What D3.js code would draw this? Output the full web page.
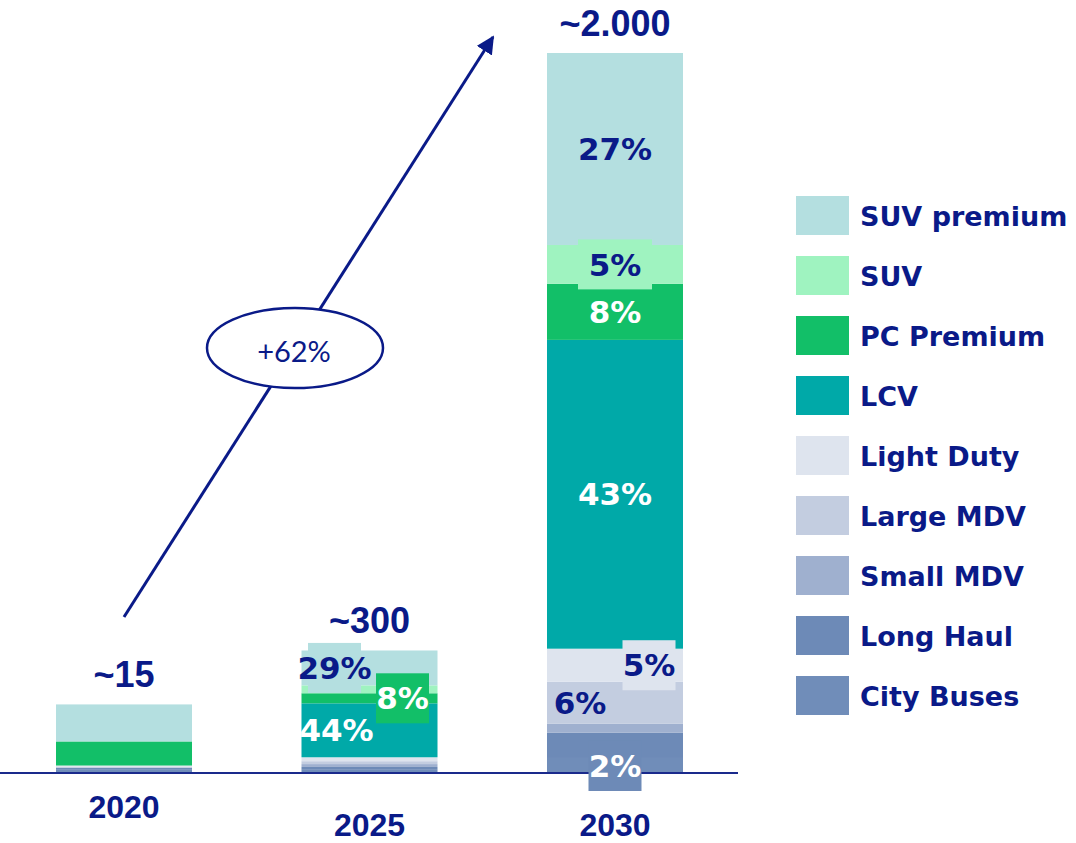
<!DOCTYPE html>
<html>
<head>
<meta charset="utf-8">
<script src="https://cdn.jsdelivr.net/npm/d3@7"></script>
<style>
  body { margin: 0; background: #fff; }
  svg { display: block; }
</style>
</head>
<body>
<svg id="chart"></svg>
<script>
// data (segment sizes in chart units, bottom -> top)
let years = ["2020", "2025", "2030"];
let totalLabels = ["~15", "~300", "~2.000"];
let series = ["City Buses", "Long Haul", "Small MDV", "Large MDV", "Light Duty", "LCV", "PC Premium", "SUV", "SUV premium"];
let colors = ["#708db9", "#6d8ab7", "#9fb0cf", "#c3cde0", "#dee4ee", "#00a9a8", "#12bf68", "#9ff3c0", "#b4dfe0"];
let values2020 = [6, 6, 0, 3, 3, 0, 67, 0, 103];
let values2025 = [6, 8, 8, 8, 11, 150, 28, 22, 97];
let values2030 = [39, 70, 25, 117, 92, 859, 156, 108, 534];
let shareLabels = [
  { year: "2025", key: "SUV premium", text: "29%" },
  { year: "2025", key: "PC Premium", text: "8%" },
  { year: "2025", key: "LCV", text: "44%" },
  { year: "2030", key: "SUV premium", text: "27%" },
  { year: "2030", key: "SUV", text: "5%" },
  { year: "2030", key: "PC Premium", text: "8%" },
  { year: "2030", key: "LCV", text: "43%" },
  { year: "2030", key: "Light Duty", text: "5%" },
  { year: "2030", key: "Large MDV", text: "6%" },
  { year: "2030", key: "City Buses", text: "2%" }
];
let growthLabel = "+62%";

// label look (offsets from segment centre, box fills)
let labelStyle = {
  "2025|SUV premium": { dx: -35, color: "#0a1a88", box: "#b4dfe0", bw: 53 },
  "2025|PC Premium": { dx: 33, color: "#fff", box: "#12bf68", bw: 53 },
  "2025|LCV": { dx: -33, color: "#fff" },
  "2030|SUV premium": { dx: 0, color: "#0a1a88" },
  "2030|SUV": { dx: 0, color: "#0a1a88", box: "#9ff3c0", bw: 74 },
  "2030|PC Premium": { dx: 0, color: "#fff" },
  "2030|LCV": { dx: 0, color: "#fff" },
  "2030|Light Duty": { dx: 34, color: "#0a1a88", box: "#dee4ee", bw: 53 },
  "2030|Large MDV": { dx: -35, color: "#0a1a88" },
  "2030|City Buses": { dx: 0, dy: 1, color: "#fff", box: "#6d8ab7", bw: 53 }
};

let navy = "#0a1a88";
let width = 1076, height = 843;
let svg = d3.select("#chart").attr("width", width).attr("height", height);

let rows = years.map((y, i) => {
  let vals = [values2020, values2025, values2030][i];
  let row = { year: y };
  series.forEach((s, j) => row[s] = vals[j]);
  return row;
});

let xScale = d3.scaleBand().domain(years).range([56, 683]).paddingInner(0.446).paddingOuter(0);
let yScale = d3.scaleLinear().domain([0, 2000]).range([772, 53]);
let colorScale = d3.scaleOrdinal().domain(series).range(colors);

let stacked = d3.stack().keys(series)(rows);

// bars
let layers = svg.append("g").selectAll("g")
  .data(stacked)
  .join("g")
  .attr("fill", d => colorScale(d.key));

layers.selectAll("rect")
  .data(d => d.filter(p => p[1] > p[0]))
  .join("rect")
  .attr("x", d => xScale(d.data.year))
  .attr("width", xScale.bandwidth())
  .attr("y", d => yScale(d[1]))
  .attr("height", d => yScale(d[0]) - yScale(d[1]));

// baseline
svg.append("line")
  .attr("x1", 0).attr("x2", 738)
  .attr("y1", yScale(0) + 1).attr("y2", yScale(0) + 1)
  .attr("stroke", "#1a2a8c").attr("stroke-width", 2);

// share labels
let lab = svg.append("g");
shareLabels.forEach(l => {
  let layer = stacked.find(s => s.key === l.key);
  let seg = layer.find(p => p.data.year === l.year);
  let st = labelStyle[l.year + "|" + l.key];
  let cx = xScale(l.year) + xScale.bandwidth() / 2 + st.dx;
  let cy = (yScale(seg[0]) + yScale(seg[1])) / 2 + (st.dy || 0);
  if (st.box) {
    lab.append("rect")
      .attr("x", cx - st.bw / 2).attr("y", cy - 25)
      .attr("width", st.bw).attr("height", 50)
      .attr("fill", st.box);
  }
  lab.append("text")
    .attr("x", cx).attr("y", cy)
    .attr("dy", "0.36em")
    .attr("text-anchor", "middle")
    .attr("font-family", "DejaVu Sans")
    .attr("font-weight", "bold")
    .attr("font-size", 31)
    .attr("fill", st.color)
    .text(l.text);
});

// totals on top
svg.append("g").selectAll("text")
  .data(rows)
  .join("text")
  .attr("x", d => xScale(d.year) + xScale.bandwidth() / 2)
  .attr("y", d => yScale(d3.sum(series, s => d[s])) - 17)
  .attr("text-anchor", "middle")
  .attr("font-family", "Liberation Sans, Arial")
  .attr("font-weight", "bold")
  .attr("font-size", 36)
  .attr("fill", navy)
  .text((d, i) => totalLabels[i]);

// x axis labels
let axisX = d3.axisBottom(xScale).tickSize(0).tickPadding(0);
let gX = svg.append("g").attr("transform", `translate(0,${yScale(0)})`).call(axisX);
gX.select(".domain").remove();
gX.selectAll("text")
  .attr("font-family", "Liberation Sans, Arial")
  .attr("font-weight", "bold")
  .attr("font-size", 32)
  .attr("fill", navy)
  .attr("dy", 0)
  .attr("y", d => d === "2020" ? 46 : 64);

// growth arrow
svg.append("defs").append("marker")
  .attr("id", "head")
  .attr("viewBox", "0 0 10 10")
  .attr("refX", 9).attr("refY", 5)
  .attr("markerWidth", 6).attr("markerHeight", 6)
  .attr("markerUnits", "strokeWidth")
  .attr("orient", "auto")
  .append("path")
  .attr("d", "M0,0 L10,5 L0,10 z")
  .attr("fill", navy);

svg.append("line")
  .attr("x1", 124).attr("y1", 617)
  .attr("x2", 493).attr("y2", 37)
  .attr("stroke", navy).attr("stroke-width", 3)
  .attr("marker-end", "url(#head)");

svg.append("ellipse")
  .attr("cx", 295).attr("cy", 348)
  .attr("rx", 88).attr("ry", 40)
  .attr("fill", "#fff")
  .attr("stroke", navy).attr("stroke-width", 2.5);

svg.append("text")
  .attr("x", 294).attr("y", 352)
  .attr("dy", "0.35em")
  .attr("text-anchor", "middle")
  .attr("font-family", "Lato, DejaVu Sans")
  .attr("font-weight", 400)
  .attr("font-size", 29)
  .attr("fill", navy)
  .text(growthLabel);

// legend
let legendOrder = series.slice().reverse();
let legend = svg.append("g").attr("transform", "translate(796,196)");
let item = legend.selectAll("g")
  .data(legendOrder)
  .join("g")
  .attr("transform", (d, i) => `translate(0,${i * 60})`);
item.append("rect")
  .attr("width", 53).attr("height", 39)
  .attr("fill", d => colorScale(d));
item.append("text")
  .attr("x", 64).attr("y", 20)
  .attr("dy", "0.36em")
  .attr("font-family", "DejaVu Sans")
  .attr("font-weight", "bold")
  .attr("font-size", 27)
  .attr("fill", navy)
  .text(d => d);
</script>
</body>
</html>
